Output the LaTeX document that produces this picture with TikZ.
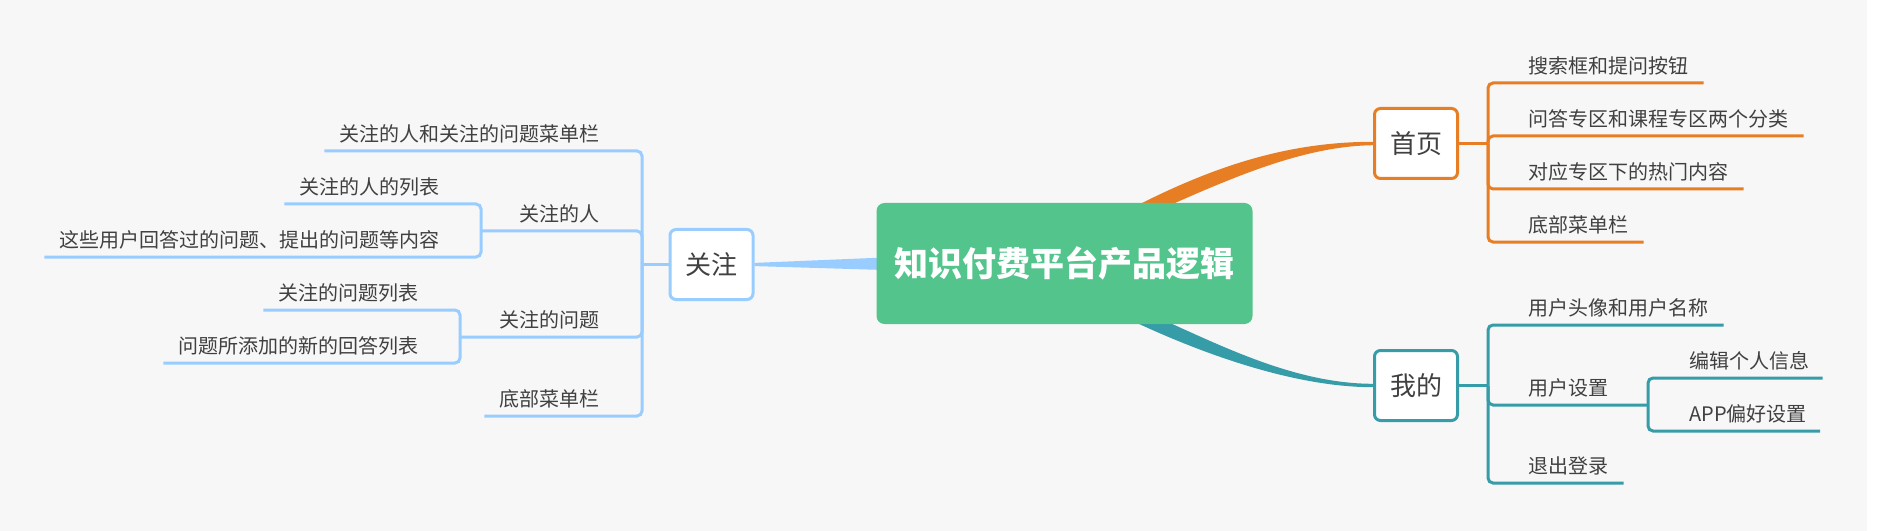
\documentclass[tikz,border=0pt]{standalone}
\usepackage{fontspec}
\setmainfont{Noto Sans CJK SC}
\usetikzlibrary{calc}
\pgfdeclarelayer{bg}
\pgfsetlayers{bg,main}
\definecolor{bgc}{HTML}{F7F7F7}
\definecolor{bluec}{HTML}{99CCFF}
\definecolor{orangec}{HTML}{E87E24}
\definecolor{tealc}{HTML}{359CA8}
\definecolor{greenc}{HTML}{52C48C}
\definecolor{txtc}{HTML}{404040}
\begin{document}
\begin{tikzpicture}[x=0.75pt,y=-0.75pt,
  leafR/.style={anchor=base west,inner sep=0pt,text=txtc,font=\fontsize{15pt}{18pt}\selectfont},
  leafL/.style={anchor=base east,inner sep=0pt,text=txtc,font=\fontsize{15pt}{18pt}\selectfont},
  topic/.style={draw=#1,fill=white,line width=2.25pt,rounded corners=4.5pt,
    minimum width=62.25pt,minimum height=52.5pt,inner sep=0pt,text=txtc,
    font=\fontsize{19.5pt}{22pt}\selectfont},
  ln/.style={draw=#1,line width=2.25pt,rounded corners=3.75pt},
  central/.style={fill=greenc,rounded corners=6pt,minimum width=282pt,minimum height=90.75pt,
    inner sep=0pt,text=white,font=\fontsize{25.5pt}{30pt}\selectfont\bfseries}
]
\useasboundingbox (0,0) rectangle (1878,531);

% nodes
\node[central] (root) at (1064.5,263.5) {知识付费平台产品逻辑};
\node[topic=bluec] (gz) at (711.5,264.5) {关注};
\node[topic=orangec] (sy) at (1416,143.5) {首页};
\node[topic=tealc] (wd) at (1416,385.5) {我的};

% left leaves
\node[leafL] (g0) at (600,141.5) {关注的人和关注的问题菜单栏};
\node[leafL] (g1) at (600,221.5) {关注的人};
\node[leafL] (g11) at (440,194.5) {关注的人的列表};
\node[leafL] (g12) at (440,247.5) {这些用户回答过的问题、提出的问题等内容};
\node[leafL] (g2) at (600,327.5) {关注的问题};
\node[leafL] (g21) at (419,300.5) {关注的问题列表};
\node[leafL] (g22) at (419,353.5) {问题所添加的新的回答列表};
\node[leafL] (g3) at (600,406.5) {底部菜单栏};

% right leaves
\node[leafR] (h0) at (1528,73.5) {搜索框和提问按钮};
\node[leafR] (h1) at (1528,126.5) {问答专区和课程专区两个分类};
\node[leafR] (h2) at (1528,179.5) {对应专区下的热门内容};
\node[leafR] (h3) at (1528,232.5) {底部菜单栏};
\node[leafR] (w0) at (1528,315.5) {用户头像和用户名称};
\node[leafR] (w1) at (1528,395.5) {用户设置};
\node[leafR] (w11) at (1689,368.5) {编辑个人信息};
\node[leafR] (w12) at (1689,421.5) {APP偏好设置};
\node[leafR] (w2) at (1528,473.5) {退出登录};

% hub coordinates
\coordinate (gv) at (642,264.5);
\coordinate (gp1) at (481,231);
\coordinate (gp2) at (460,337);
\coordinate (hv) at (1488,143.5);
\coordinate (wv) at (1488,385.5);
\coordinate (wp1) at (1648,405);

\begin{pgfonlayer}{bg}
\fill[white] (0,0) rectangle (1878,531);
\fill[bgc] (0,0) rectangle (1867,531);
% thick tapered main connectors
\fill[orangec] (1125,214) -- (1142,203) .. controls (1218,165) and (1290,141.8) .. ($(sy.west)+(0,-1.7)$)
  -- ($(sy.west)+(0,1.7)$) .. controls (1310,146) and (1245,172) .. (1175,203) -- (1165,214) -- cycle;
\fill[tealc] (1130,315) -- (1137,323) .. controls (1195,350) and (1290,387.2) .. ($(wd.west)+(0,1.7)$)
  -- ($(wd.west)+(0,-1.7)$) .. controls (1300,383.8) and (1230,350) .. (1170,323) -- (1175,315) -- cycle;
\fill[bluec] ($(gz.east)+(0,-1.6)$) -- ($(root.west)+(8,-6)$) -- ($(root.west)+(8,6.5)$) -- ($(gz.east)+(0,1.6)$) -- cycle;
\end{pgfonlayer}

% left branches
\draw[ln=bluec] (gz.west) -- (gv);
\draw[ln=bluec] (gv) |- ($(g0.base west)+(-15,9.5)$);
\draw[ln=bluec] (gv) |- (gp1);
\draw[ln=bluec] (gp1) |- ($(g11.base west)+(-15,9.5)$);
\draw[ln=bluec] (gp1) |- ($(g12.base west)+(-15,9.5)$);
\draw[ln=bluec] (gv) |- (gp2);
\draw[ln=bluec] (gp2) |- ($(g21.base west)+(-15,9.5)$);
\draw[ln=bluec] (gp2) |- ($(g22.base west)+(-15,9.5)$);
\draw[ln=bluec] (gv) |- ($(g3.base west)+(-15,9.5)$);

% right branches (home)
\draw[ln=orangec] (sy.east) -- (hv);
\draw[ln=orangec] (hv) |- ($(h0.base east)+(15,9.5)$);
\draw[ln=orangec] (hv) |- ($(h1.base east)+(15,9.5)$);
\draw[ln=orangec] (hv) |- ($(h2.base east)+(15,9.5)$);
\draw[ln=orangec] (hv) |- ($(h3.base east)+(15,9.5)$);

% right branches (mine)
\draw[ln=tealc] (wd.east) -- (wv);
\draw[ln=tealc] (wv) |- ($(w0.base east)+(15,9.5)$);
\draw[ln=tealc] (wv) |- (wp1);
\draw[ln=tealc] (wp1) |- ($(w11.base east)+(13,9.5)$);
\draw[ln=tealc] (wp1) |- ($(w12.base east)+(13,9.5)$);
\draw[ln=tealc] (wv) |- ($(w2.base east)+(15,9.5)$);
\end{tikzpicture}
\end{document}
